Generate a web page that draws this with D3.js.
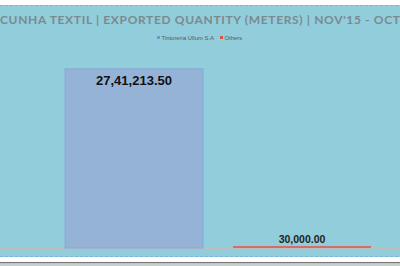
<!DOCTYPE html>
<html><head><meta charset="utf-8">
<script src="https://cdn.jsdelivr.net/npm/d3@7"></script>
<style>html,body{margin:0;padding:0;background:#fff;overflow:hidden}</style>
</head><body>
<script>
const titleText = "CUNHA TEXTIL | EXPORTED QUANTITY (METERS) | NOV'15 - OCT'16";
const seriesNames = ["Tintoreria Ullum S.A", "Others"];
const seriesValues = [2741213.50, 30000.00];
const seriesColors = ["#95B3D7", "#D46C68"];
const legendColors = ["#6F95CC", "#D9534F"];
const yDomainMax = 3000000;

const W = 400, H = 266;
const svg = d3.select("body").append("svg").attr("width", W).attr("height", H);

svg.append("rect").attr("x", 0).attr("y", 0).attr("width", W).attr("height", H).attr("fill", "#fff");
svg.append("rect").attr("x", 0).attr("y", 5).attr("width", W).attr("height", 252).attr("fill", "#92CDDC");
svg.append("line").attr("x1", 0).attr("x2", W).attr("y1", 5.5).attr("y2", 5.5)
  .attr("stroke", "#7DB3E0").attr("stroke-dasharray", "3,2");
svg.append("line").attr("x1", 0).attr("x2", W).attr("y1", 256.5).attr("y2", 256.5)
  .attr("stroke", "#7DB3E0").attr("stroke-dasharray", "3,2");
svg.append("rect").attr("x", 0).attr("y", 262).attr("width", W).attr("height", 1.5).attr("fill", "#777");
svg.append("rect").attr("x", 0).attr("y", 263.5).attr("width", W).attr("height", 3).attr("fill", "#ccc");

// title (runs past the right edge, as in the reference)
svg.append("text").attr("x", 0).attr("y", 24)
  .attr("font-family", "Lato, sans-serif").attr("font-weight", "bold")
  .attr("font-size", 12).attr("letter-spacing", 0.65)
  .attr("fill", "#7B8A8E").text(titleText);

// legend
const leg = svg.append("g").attr("font-family", "Liberation Sans, sans-serif").attr("font-size", 5.9).attr("fill", "#595959");
const legX = [157, 220];
seriesNames.forEach((n, i) => {
  leg.append("rect").attr("x", legX[i]).attr("y", 36).attr("width", 3).attr("height", 3).attr("fill", legendColors[i]);
  leg.append("text").attr("x", legX[i] + 4.5).attr("y", 39.5).text(n);
});

const x = d3.scaleBand().domain(seriesNames).range([50, 386]).paddingInner(0.18).paddingOuter(0.09);
const y = d3.scaleLinear().domain([0, yDomainMax]).range([248, 52]);

svg.append("line").attr("x1", 0).attr("x2", W).attr("y1", y(0) + 0.5).attr("y2", y(0) + 0.5)
  .attr("stroke", "#BFBFBF").attr("stroke-width", 1.2);

const data = seriesNames.map((n, i) => ({name: n, value: seriesValues[i], i}));

svg.selectAll("rect.bar").data(data).join("rect").attr("class", "bar")
  .attr("x", d => x(d.name)).attr("width", x.bandwidth())
  .attr("y", d => y(d.value)).attr("height", d => y(0) - y(d.value))
  .attr("fill", d => seriesColors[d.i])
  .attr("stroke", d => d.i === 0 ? "#86A6D6" : "none").attr("stroke-width", 1);

function indianFormat(v) {
  const parts = v.toFixed(2).split(".");
  let s = parts[0];
  let last3 = s.slice(-3), rest = s.slice(0, -3);
  if (rest.length) rest = rest.replace(/\B(?=(\d{2})+(?!\d))/g, ",") + ",";
  return rest + last3 + "." + parts[1];
}

svg.selectAll("text.lbl").data(data).join("text").attr("class", "lbl")
  .attr("x", d => x(d.name) + x.bandwidth() / 2)
  .attr("y", d => d.i === 0 ? y(d.value) + 16 : y(d.value) - 3.5)
  .attr("text-anchor", "middle")
  .attr("font-family", "Liberation Sans, sans-serif").attr("font-weight", "bold")
  .attr("font-size", d => d.i === 0 ? 13 : 10.5)
  .attr("fill", d => d.i === 0 ? "#111" : "#222")
  .text(d => indianFormat(d.value));
</script>
</body></html>
